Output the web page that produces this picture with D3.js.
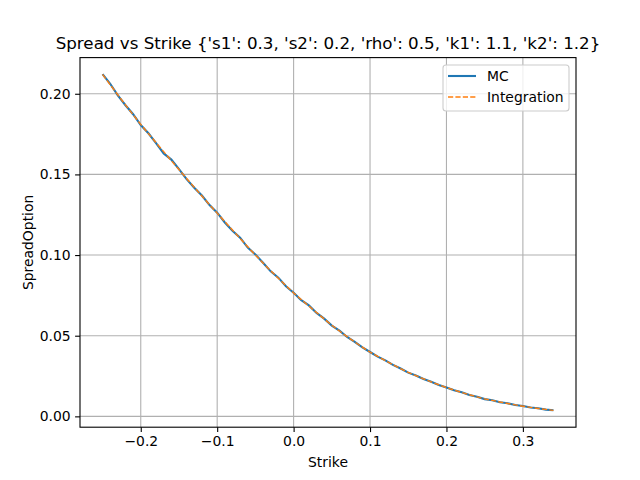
<!DOCTYPE html>
<html>
<head>
<meta charset="utf-8">
<script src="https://cdn.jsdelivr.net/npm/d3@7"></script>
<style>
  body { margin: 0; background: #fff; }
  text { font-family: "DejaVu Sans", sans-serif; fill: #000; }
</style>
</head>
<body>
<svg id="chart" width="640" height="480"></svg>
<script>
// strikes, step 0.01
var strikes = [-0.25,-0.24,-0.23,-0.22,-0.21,-0.20,-0.19,-0.18,-0.17,-0.16,
  -0.15,-0.14,-0.13,-0.12,-0.11,-0.10,-0.09,-0.08,-0.07,-0.06,
  -0.05,-0.04,-0.03,-0.02,-0.01,0.00,0.01,0.02,0.03,0.04,
  0.05,0.06,0.07,0.08,0.09,0.10,0.11,0.12,0.13,0.14,
  0.15,0.16,0.17,0.18,0.19,0.20,0.21,0.22,0.23,0.24,
  0.25,0.26,0.27,0.28,0.29,0.30,0.31,0.32,0.33,0.34];

// integration price
var integ = [0.2120,0.2056,0.1993,0.1931,0.1870,0.1810,0.1753,0.1697,0.1641,0.1585,
  0.1530,0.1475,0.1420,0.1366,0.1312,0.1260,0.1207,0.1155,0.1103,0.1051,
  0.1000,0.0951,0.0903,0.0856,0.0810,0.0765,0.0724,0.0684,0.0644,0.0604,
  0.0565,0.0529,0.0494,0.0461,0.0429,0.0398,0.0372,0.0346,0.0320,0.0296,
  0.0272,0.0252,0.0233,0.0214,0.0196,0.0178,0.0163,0.0148,0.0134,0.0121,
  0.0108,0.0099,0.0089,0.0080,0.0071,0.0063,0.0056,0.0049,0.0043,0.0037];

// monte carlo price (a bit noisy)
var mc = [0.2122,0.2062,0.1990,0.1929,0.1873,0.1806,0.1755,0.1694,0.1630,0.1592,
  0.1533,0.1471,0.1417,0.1369,0.1310,0.1263,0.1202,0.1151,0.1108,0.1046,
  0.1003,0.0952,0.0899,0.0860,0.0807,0.0766,0.0720,0.0688,0.0641,0.0606,
  0.0563,0.0531,0.0492,0.0462,0.0428,0.0399,0.0370,0.0347,0.0319,0.0297,
  0.0271,0.0253,0.0232,0.0215,0.0195,0.0179,0.0162,0.0149,0.0133,0.0122,
  0.0107,0.0100,0.0088,0.0081,0.0070,0.0064,0.0055,0.0050,0.0042,0.0038];

var xTicks = [-0.2,-0.1,0.0,0.1,0.2,0.3];
var yTicks = [0.00,0.05,0.10,0.15,0.20];

var svg = d3.select('#chart');
var L = 80, R = 576, T = 57.6, B = 427.2;

var x = d3.scaleLinear().domain([-0.2795, 0.3695]).range([L, R]);
var y = d3.scaleLinear().domain([-0.00672, 0.22242]).range([B, T]);

// grid
svg.append('g').selectAll('line').data(xTicks).enter().append('line')
  .attr('x1', d => x(d)).attr('x2', d => x(d)).attr('y1', T).attr('y2', B)
  .attr('stroke', '#b0b0b0').attr('stroke-width', 1.1);
svg.append('g').selectAll('line').data(yTicks).enter().append('line')
  .attr('y1', d => y(d)).attr('y2', d => y(d)).attr('x1', L).attr('x2', R)
  .attr('stroke', '#b0b0b0').attr('stroke-width', 1.1);

// axes
var xAxis = d3.axisBottom(x).tickValues(xTicks).tickSize(4.9).tickPadding(4.5)
  .tickFormat(d => d3.format('.1f')(d).replace('-', '\u2212'));
var yAxis = d3.axisLeft(y).tickValues(yTicks).tickSize(4.9).tickPadding(4.5)
  .tickFormat(d3.format('.2f'));

var gx = svg.append('g').attr('transform', 'translate(0,' + B + ')').call(xAxis);
var gy = svg.append('g').attr('transform', 'translate(' + L + ',0)').call(yAxis);
[gx, gy].forEach(function(g) {
  g.select('.domain').remove();
  g.selectAll('line').attr('stroke', '#000').attr('stroke-width', 1.1);
  g.selectAll('text').style('font-family', '"DejaVu Sans", sans-serif')
    .style('font-size', '13.9px').attr('fill', '#000');
});

// lines
var line = function(vals) {
  return d3.line().x((d, i) => x(strikes[i])).y(d => y(d))(vals);
};
svg.append('path').attr('d', line(mc)).attr('fill', 'none')
  .attr('stroke', '#1f77b4').attr('stroke-width', 2.1);
svg.append('path').attr('d', line(integ)).attr('fill', 'none')
  .attr('stroke', '#ff7f0e').attr('stroke-width', 1.4).attr('stroke-dasharray', '5.2,2.2');

// frame
svg.append('rect').attr('x', L).attr('y', T).attr('width', R - L).attr('height', B - T)
  .attr('fill', 'none').attr('stroke', '#000').attr('stroke-width', 1.1);

// labels
svg.append('text').attr('x', (L + R) / 2).attr('y', 49).attr('text-anchor', 'middle')
  .style('font-size', '16.7px')
  .text("Spread vs Strike {'s1': 0.3, 's2': 0.2, 'rho': 0.5, 'k1': 1.1, 'k2': 1.2}");
svg.append('text').attr('x', (L + R) / 2).attr('y', 467).attr('text-anchor', 'middle')
  .style('font-size', '13.9px').text('Strike');
svg.append('text').attr('transform', 'translate(33,' + ((T + B) / 2) + ') rotate(-90)')
  .attr('text-anchor', 'middle').style('font-size', '13.9px').text('SpreadOption');

// legend
var lg = svg.append('g');
lg.append('rect').attr('x', 443).attr('y', 65).attr('width', 126).attr('height', 46)
  .attr('rx', 3).attr('fill', '#fff').attr('fill-opacity', 0.8)
  .attr('stroke', '#cccccc').attr('stroke-width', 1.1);
lg.append('line').attr('x1', 448).attr('x2', 476).attr('y1', 76).attr('y2', 76)
  .attr('stroke', '#1f77b4').attr('stroke-width', 2.1);
lg.append('line').attr('x1', 448).attr('x2', 476).attr('y1', 97).attr('y2', 97)
  .attr('stroke', '#ff7f0e').attr('stroke-width', 1.4).attr('stroke-dasharray', '5.2,2.2');
lg.append('text').attr('x', 487).attr('y', 81).style('font-size', '13.9px').text('MC');
lg.append('text').attr('x', 487).attr('y', 102).style('font-size', '13.9px').text('Integration');
</script>
</body>
</html>
